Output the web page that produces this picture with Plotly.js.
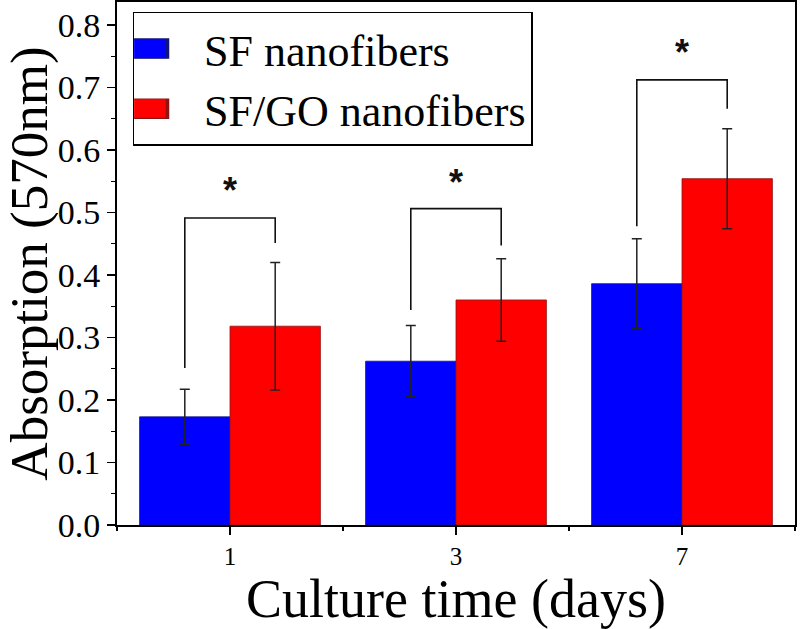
<!DOCTYPE html>
<html>
<head>
<meta charset="utf-8">
<script src="https://cdn.plot.ly/plotly-3.0.1.min.js"></script>
<style>html,body{margin:0;padding:0;background:#fff;}#chart{width:800px;height:629px;}</style>
</head>
<body>
<div id="chart"></div>
<script>
// Data
const days = ['1', '3', '7'];
const sfValues = [0.173, 0.262, 0.386];
const sfErrors = [0.044, 0.057, 0.072];
const sfgoValues = [0.318, 0.360, 0.554];
const sfgoErrors = [0.102, 0.066, 0.080];
const bracketTop = [0.491, 0.506, 0.712];
const bracketLeftEnd = [0.251, 0.344, 0.478];
const bracketRightEnd = [0.451, 0.447, 0.666];
const starY = [0.530, 0.542, 0.750];
const seriesNames = ['SF nanofibers', 'SF/GO nanofibers'];
const yTickVals = [0, 0.1, 0.2, 0.3, 0.4, 0.5, 0.6, 0.7, 0.8];
const yTickText = ['0.0', '0.1', '0.2', '0.3', '0.4', '0.5', '0.6', '0.7', '0.8'];

const xIdx = days.map((d, i) => i);
const serif = '"Liberation Serif", "Times New Roman", serif';

const traces = [
  {
    type: 'bar', name: seriesNames[0], x: xIdx, y: sfValues,
    marker: {color: 'rgb(0,0,255)', line: {color: 'rgb(20,20,120)', width: 0.8}},
    error_y: {type: 'data', array: sfErrors, visible: true, color: '#222', thickness: 1.5, width: 5}
  },
  {
    type: 'bar', name: seriesNames[1], x: xIdx, y: sfgoValues,
    marker: {color: 'rgb(255,0,0)', line: {color: 'rgb(140,20,20)', width: 0.8}},
    error_y: {type: 'data', array: sfgoErrors, visible: true, color: '#222', thickness: 1.5, width: 5}
  }
];

xIdx.forEach((xi, i) => {
  traces.push({
    type: 'scatter', mode: 'lines', showlegend: false, hoverinfo: 'skip',
    x: [xi - 0.2, xi - 0.2, xi + 0.2, xi + 0.2],
    y: [bracketLeftEnd[i], bracketTop[i], bracketTop[i], bracketRightEnd[i]],
    line: {color: '#111', width: 1.6}
  });
});

traces.push({
  type: 'scatter', mode: 'text', showlegend: false, hoverinfo: 'skip',
  x: xIdx, y: starY, text: xIdx.map(() => '*'),
  textfont: {family: '"Liberation Sans", Arial, sans-serif', size: 36, color: '#111', weight: 'bold'},
  textposition: 'middle center'
});

const layout = {
  width: 800, height: 629,
  margin: {l: 117, r: 5, t: 2, b: 104},
  paper_bgcolor: '#fff', plot_bgcolor: '#fff',
  font: {family: serif, color: '#000'},
  barmode: 'group', bargap: 0.2, bargroupgap: 0,
  showlegend: true,
  legend: {
    x: 0.023, y: 0.981, xanchor: 'left', yanchor: 'top',
    bordercolor: '#000', borderwidth: 1.5, bgcolor: '#fff',
    font: {family: serif, size: 44, color: '#000'},
    tracegroupgap: 0, itemwidth: 60
  },
  xaxis: {
    type: 'linear', range: [-0.5, 2.5],
    tickmode: 'array', tickvals: xIdx, ticktext: days,
    ticks: 'outside', ticklen: 8, tickwidth: 1.5, tickcolor: '#000',
    minor: {ticks: 'outside', tick0: 0.5, dtick: 1, ticklen: 4, tickwidth: 1.2, tickcolor: '#000'},
    showline: true, linecolor: '#000', linewidth: 2, mirror: true,
    showgrid: false, zeroline: false,
    tickfont: {family: serif, size: 25, color: '#000'},
    title: {text: 'Culture time (days)', font: {family: serif, size: 54, color: '#000'}, standoff: 12}
  },
  yaxis: {
    range: [0, 0.8366], tickmode: 'array', tickvals: yTickVals, ticktext: yTickText,
    ticks: 'outside', ticklen: 8, tickwidth: 1.5, tickcolor: '#000',
    minor: {ticks: 'outside', tick0: 0.05, dtick: 0.1, ticklen: 4, tickwidth: 1.2, tickcolor: '#000'},
    showline: true, linecolor: '#000', linewidth: 2, mirror: true,
    showgrid: false, zeroline: false,
    tickfont: {family: serif, size: 34, color: '#000'},
    title: {text: 'Absorption (570nm)', font: {family: serif, size: 53, color: '#000'}, standoff: 4}
  }
};

Plotly.newPlot('chart', traces, layout, {displayModeBar: false, staticPlot: true}).then(function (gd) {
  // widen the legend swatches to the flat bars of the reference
  gd.querySelectorAll('.legend .legendpoints path').forEach(function (p) {
    p.setAttribute('transform', 'translate(7,0) scale(4.4,1.6)');
  });
});
</script>
</body>
</html>
